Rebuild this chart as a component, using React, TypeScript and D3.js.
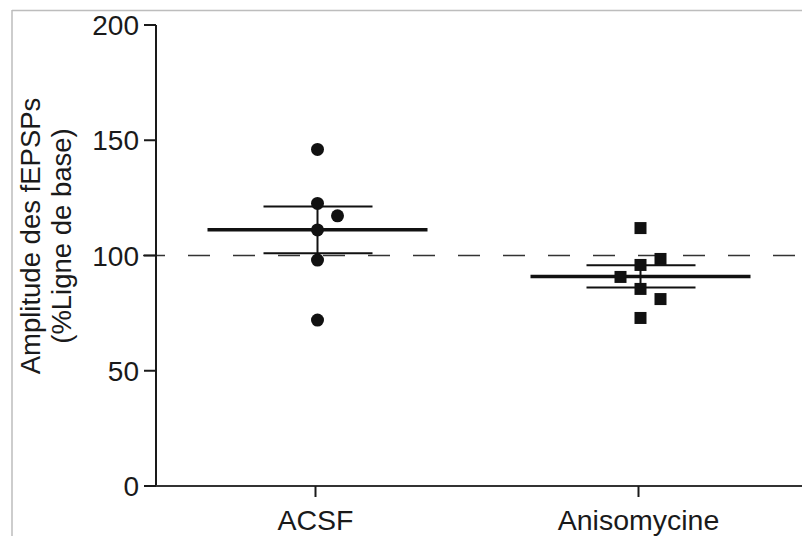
import React from "react";
import * as d3 from "d3";

const categories = ["ACSF", "Anisomycine"];
const acsfValues = [146, 122.6, 117.2, 111.1, 98, 72];
const acsfJitter = [0, 0, 1, 0, 0, 0];
const anisoValues = [111.9, 98.5, 95.9, 90.7, 85.5, 81.1, 72.9];
const anisoJitter = [0, 1, 0, -1, 0, 1, 0];
const yTicks = [0, 50, 100, 150, 200];
const baseline = 100;
const yLabelLines = ["Amplitude des fEPSPs", "(%Ligne de base)"];

const W = 802;
const H = 536;
const FONT = "'Liberation Sans', Arial, sans-serif";
const INK = "#1a1a1a";

function stats(v: number[]) {
  const m = d3.mean(v) as number;
  const sd = d3.deviation(v) as number;
  return { mean: m, sem: sd / Math.sqrt(v.length) };
}

export default function App() {
  const x = d3.scalePoint<string>().domain(categories).range([156, 802]).padding(0.5);
  const y = d3.scaleLinear().domain([0, 200]).range([486, 25]);
  const jitterPx = 20;

  const groups = [
    { cat: "ACSF", values: acsfValues, jitter: acsfJitter, shape: "circle" },
    { cat: "Anisomycine", values: anisoValues, jitter: anisoJitter, shape: "square" },
  ];

  return (
    <svg
      width={W}
      height={H}
      style={{ position: "absolute", left: 0, top: 0, background: "#fff" }}
      fontFamily={FONT}
    >
      <rect x={0} y={0} width={W} height={H} fill="#fff" />
      {/* frame */}
      <line x1={12} x2={W} y1={10.5} y2={10.5} stroke="#bdbdbd" strokeWidth={1.5} />
      <line x1={12} x2={12} y1={10} y2={H} stroke="#bdbdbd" strokeWidth={1.5} />

      {/* baseline dashed */}
      <line
        x1={143}
        x2={W}
        y1={y(baseline)}
        y2={y(baseline)}
        stroke="#333"
        strokeWidth={1.6}
        strokeDasharray="22,23"
      />

      {/* y axis */}
      <line x1={156} x2={156} y1={y(200)} y2={y(0)} stroke={INK} strokeWidth={2} />
      {yTicks.map((t) => (
        <g key={t}>
          <line x1={144} x2={156} y1={y(t)} y2={y(t)} stroke={INK} strokeWidth={2} />
          <text
            x={139}
            y={y(t)}
            dy="0.36em"
            textAnchor="end"
            fontSize={28}
            fill={INK}
          >
            {t}
          </text>
        </g>
      ))}

      {/* x axis */}
      <line x1={156} x2={W} y1={y(0)} y2={y(0)} stroke="#333" strokeWidth={2} />
      {categories.map((c) => (
        <g key={c}>
          <line
            x1={(x(c) as number) - 2}
            x2={(x(c) as number) - 2}
            y1={y(0)}
            y2={y(0) + 11}
            stroke={INK}
            strokeWidth={2}
          />
          <text
            x={(x(c) as number) - 2}
            y={530}
            textAnchor="middle"
            fontSize={28.5}
            fill={INK}
          >
            {c}
          </text>
        </g>
      ))}

      {/* y label */}
      <g transform={`translate(40, 236) rotate(-90)`}>
        {yLabelLines.map((l, i) => (
          <text key={i} x={0} y={i * 31} textAnchor="middle" fontSize={27.5} fill={INK}>
            {l}
          </text>
        ))}
      </g>

      {/* mean and SEM */}
      {groups.map((g) => {
        const cx = x(g.cat) as number;
        const s = stats(g.values);
        return (
          <g key={g.cat + "stats"} stroke="#111">
            <line x1={cx - 110} x2={cx + 110} y1={y(s.mean)} y2={y(s.mean)} strokeWidth={3.5} />
            <line x1={cx - 54} x2={cx + 55} y1={y(s.mean + s.sem)} y2={y(s.mean + s.sem)} strokeWidth={2} />
            <line x1={cx - 54} x2={cx + 55} y1={y(s.mean - s.sem)} y2={y(s.mean - s.sem)} strokeWidth={2} />
            <line x1={cx} x2={cx} y1={y(s.mean + s.sem)} y2={y(s.mean - s.sem)} strokeWidth={2} />
          </g>
        );
      })}

      {/* points */}
      {groups.map((g) =>
        g.values.map((v, i) => {
          const cx = (x(g.cat) as number) + g.jitter[i] * jitterPx;
          const cy = y(v);
          return g.shape === "circle" ? (
            <circle key={g.cat + i} cx={cx} cy={cy} r={6.5} fill="#111" />
          ) : (
            <rect key={g.cat + i} x={cx - 6} y={cy - 6} width={12} height={12} fill="#111" />
          );
        })
      )}
    </svg>
  );
}
